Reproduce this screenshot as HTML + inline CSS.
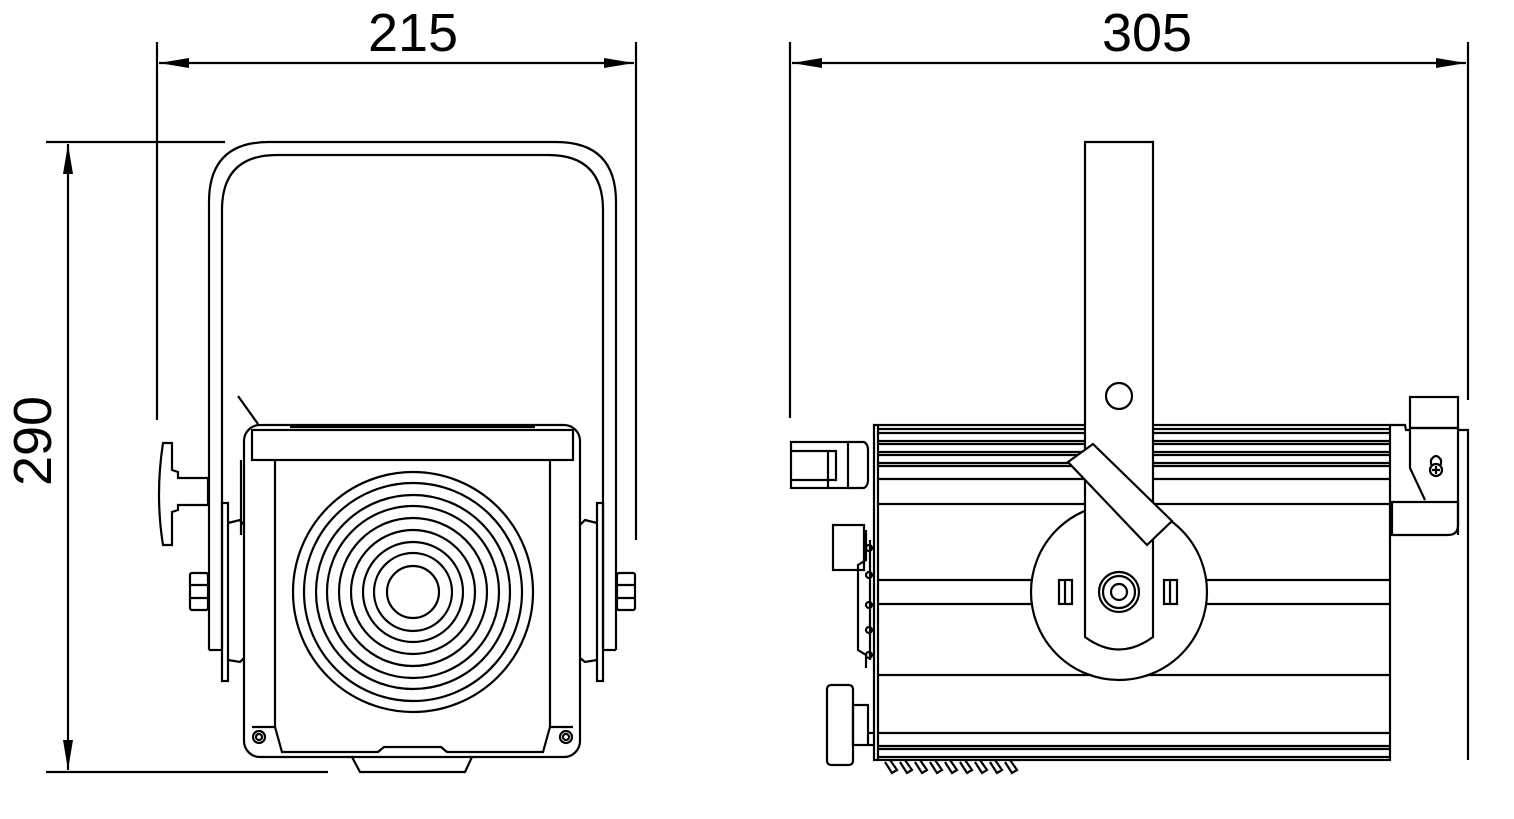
<!DOCTYPE html>
<html><head><meta charset="utf-8"><style>
html,body{margin:0;padding:0;background:#fff;}
svg{display:block;}
text{font-family:"Liberation Sans",sans-serif;fill:#000;}
</style></head><body>
<svg width="1514" height="819" viewBox="0 0 1514 819" xmlns="http://www.w3.org/2000/svg">
<defs>
<marker id="ar" viewBox="0 0 30 10" refX="30" refY="5" markerWidth="30" markerHeight="10" markerUnits="userSpaceOnUse" orient="auto-start-reverse">
<path d="M0,0 L30,5 L0,10 Z" fill="#000"/></marker>
</defs>
<g stroke="#000" stroke-width="2.2" fill="none">
<!-- LEFT VIEW dimensions -->
<line x1="157" y1="42" x2="157" y2="420"/>
<line x1="636" y1="42" x2="636" y2="540"/>
<line x1="159" y1="63" x2="634" y2="63" marker-start="url(#ar)" marker-end="url(#ar)"/>
<line x1="46" y1="142" x2="225" y2="142"/>
<line x1="46" y1="772" x2="328" y2="772"/>
<line x1="68" y1="144" x2="68" y2="770" marker-start="url(#ar)" marker-end="url(#ar)"/>
<!-- yoke -->
<path d="M209,650 L209,202 Q209,142 269,142 L556,142 Q616,142 616,202 L616,650"/>
<path d="M222,650 L222,210 Q222,155 277,155 L548,155 Q603,155 603,210 L603,650"/>
<line x1="209" y1="650" x2="222" y2="650"/><line x1="603" y1="650" x2="616" y2="650"/>
<!-- side plates -->
<rect x="222" y="503" width="6" height="178"/>
<path d="M228,523 L240,520 L244,525 M228,660 L240,662 L244,658"/>
<rect x="597" y="503" width="6" height="178"/>
<path d="M597,523 L585,520 L580,525 M597,660 L585,662 L580,658"/>
<!-- nuts -->
<rect x="190" y="573" width="18" height="37" rx="2"/><line x1="190" y1="585" x2="208" y2="585"/><line x1="190" y1="598" x2="208" y2="598"/>
<rect x="617" y="573" width="18" height="37" rx="2"/><line x1="617" y1="585" x2="635" y2="585"/><line x1="617" y1="598" x2="635" y2="598"/>
<!-- knob -->
<path d="M163,443 L172,443 L172,470 L178,472 L178,478 L208,478 L208,505 L178,505 L178,510 L172,512 L172,545 L163,545 Q155,495 163,443 Z"/>
<line x1="238" y1="396" x2="258" y2="424"/>
<!-- housing -->
<rect x="244" y="425" width="336" height="332" rx="16"/>
<rect x="252" y="430" width="321" height="30"/>
<line x1="290" y1="427" x2="535" y2="427"/>
<line x1="275" y1="460" x2="275" y2="727"/>
<line x1="550" y1="460" x2="550" y2="727"/>
<path d="M252,727 L275,727 L282,752 L378,752 L384,747 L441,747 L447,752 L543,752 L550,727 L573,727"/>
<path d="M352,757 L360,772 L465,772 L472,757"/>
<line x1="241" y1="460" x2="241" y2="535"/>
<circle cx="259" cy="737" r="6"/><circle cx="259" cy="737" r="3"/>
<circle cx="566" cy="737" r="6"/><circle cx="566" cy="737" r="3"/>
<!-- lens -->
<circle cx="413" cy="592" r="120"/><circle cx="413" cy="592" r="109"/><circle cx="413" cy="592" r="97"/>
<circle cx="413" cy="592" r="86"/><circle cx="413" cy="592" r="74"/><circle cx="413" cy="592" r="62"/>
<circle cx="413" cy="592" r="50"/><circle cx="413" cy="592" r="39"/><circle cx="413" cy="592" r="26"/>

<!-- RIGHT VIEW dimensions -->
<line x1="790" y1="42" x2="790" y2="418"/>
<line x1="1468" y1="42" x2="1468" y2="400"/>
<line x1="792" y1="63" x2="1466" y2="63" marker-start="url(#ar)" marker-end="url(#ar)"/>
<!-- body -->
<rect x="874" y="425" width="516" height="335"/>
<line x1="878" y1="425" x2="878" y2="760"/>
<g>
<line x1="878" y1="429" x2="1390" y2="429"/><line x1="878" y1="433" x2="1390" y2="433"/>
<line x1="878" y1="441" x2="1390" y2="441"/><line x1="878" y1="444" x2="1390" y2="444"/>
<line x1="878" y1="452" x2="1390" y2="452"/><line x1="878" y1="455" x2="1390" y2="455"/>
<line x1="878" y1="463" x2="1390" y2="463"/><line x1="878" y1="466" x2="1390" y2="466"/>
<line x1="878" y1="479" x2="1390" y2="479"/><line x1="878" y1="504" x2="1390" y2="504"/>
<line x1="878" y1="580" x2="1390" y2="580"/><line x1="878" y1="604" x2="1390" y2="604"/>
<line x1="878" y1="675" x2="1390" y2="675"/><line x1="878" y1="733" x2="1390" y2="733"/>
<line x1="878" y1="746" x2="1390" y2="746"/><line x1="878" y1="749" x2="1390" y2="749"/>
<line x1="878" y1="757" x2="1390" y2="757"/>
</g>
<!-- disc -->
<circle cx="1119" cy="592" r="88" fill="#fff"/>
<!-- arm -->
<path d="M1085,142 L1153,142 L1153,637 Q1119,662 1085,637 Z" fill="#fff"/>
<circle cx="1119" cy="396" r="13"/>
<polygon points="1068,462 1093,444 1172,521 1147,545" fill="#fff"/>
<circle cx="1119" cy="592" r="20"/><circle cx="1119" cy="592" r="16"/><circle cx="1119" cy="592" r="8"/>
<rect x="1059" y="580" width="13" height="24"/><line x1="1065" y1="580" x2="1065" y2="604"/>
<rect x="1164" y="580" width="13" height="24"/><line x1="1170" y1="580" x2="1170" y2="604"/>
<!-- left parts -->
<rect x="791" y="442" width="57" height="46"/>
<path d="M791,451 L836,451 L836,480 L791,480 M828,451 L828,488"/>
<path d="M848,442 L864,442 Q868,444 868,450 L868,480 Q868,486 864,488 L848,488"/>
<rect x="833" y="525" width="31" height="45"/>
<path d="M866,530 L866,560 L858,565 L858,650 L866,655 L866,668 M870,540 L870,660"/>
<circle cx="869" cy="548" r="3"/><circle cx="869" cy="575" r="3"/><circle cx="869" cy="605" r="3"/><circle cx="869" cy="630" r="3"/><circle cx="869" cy="655" r="3"/>
<rect x="827" y="685" width="26" height="80" rx="4"/>
<rect x="853" y="705" width="15" height="40"/>
<line x1="868" y1="733" x2="874" y2="733"/><line x1="868" y1="745" x2="874" y2="745"/>
<!-- feet -->
<path d="M885,762 L892,773 L897,770 L890,760 M900,762 L907,773 L912,770 L905,760 M915,762 L922,773 L927,770 L920,760 M930,762 L937,773 L942,770 L935,760 M945,762 L952,773 L957,770 L950,760 M960,762 L967,773 L972,770 L965,760 M975,762 L982,773 L987,770 L980,760 M990,762 L997,773 L1002,770 L995,760 M1005,762 L1012,773 L1017,770 L1010,760"/>
<!-- right bracket -->
<rect x="1410" y="397" width="48" height="31" fill="#fff"/>
<path d="M1390,425 L1405,425 L1406,430 L1410,430 L1410,468 L1425,500 M1410,428 L1458,428 L1458,535"/>
<path d="M1392,502 L1458,502 L1458,525 Q1458,535 1448,535 L1392,535 Z"/>
<path d="M1458,430 L1468,430 L1468,760"/>
<circle cx="1436" cy="470" r="6"/><path d="M1432,470 L1440,470 M1436,466 L1436,474 M1431,465 L1431,460 Q1436,452 1441,460 L1441,465"/>
</g>
<text x="413" y="51" font-size="54" text-anchor="middle">215</text>
<text x="1147" y="51" font-size="54" text-anchor="middle">305</text>
<text x="0" y="0" font-size="54" text-anchor="middle" transform="translate(51,441) rotate(-90)">290</text>
</svg>
</body></html>
